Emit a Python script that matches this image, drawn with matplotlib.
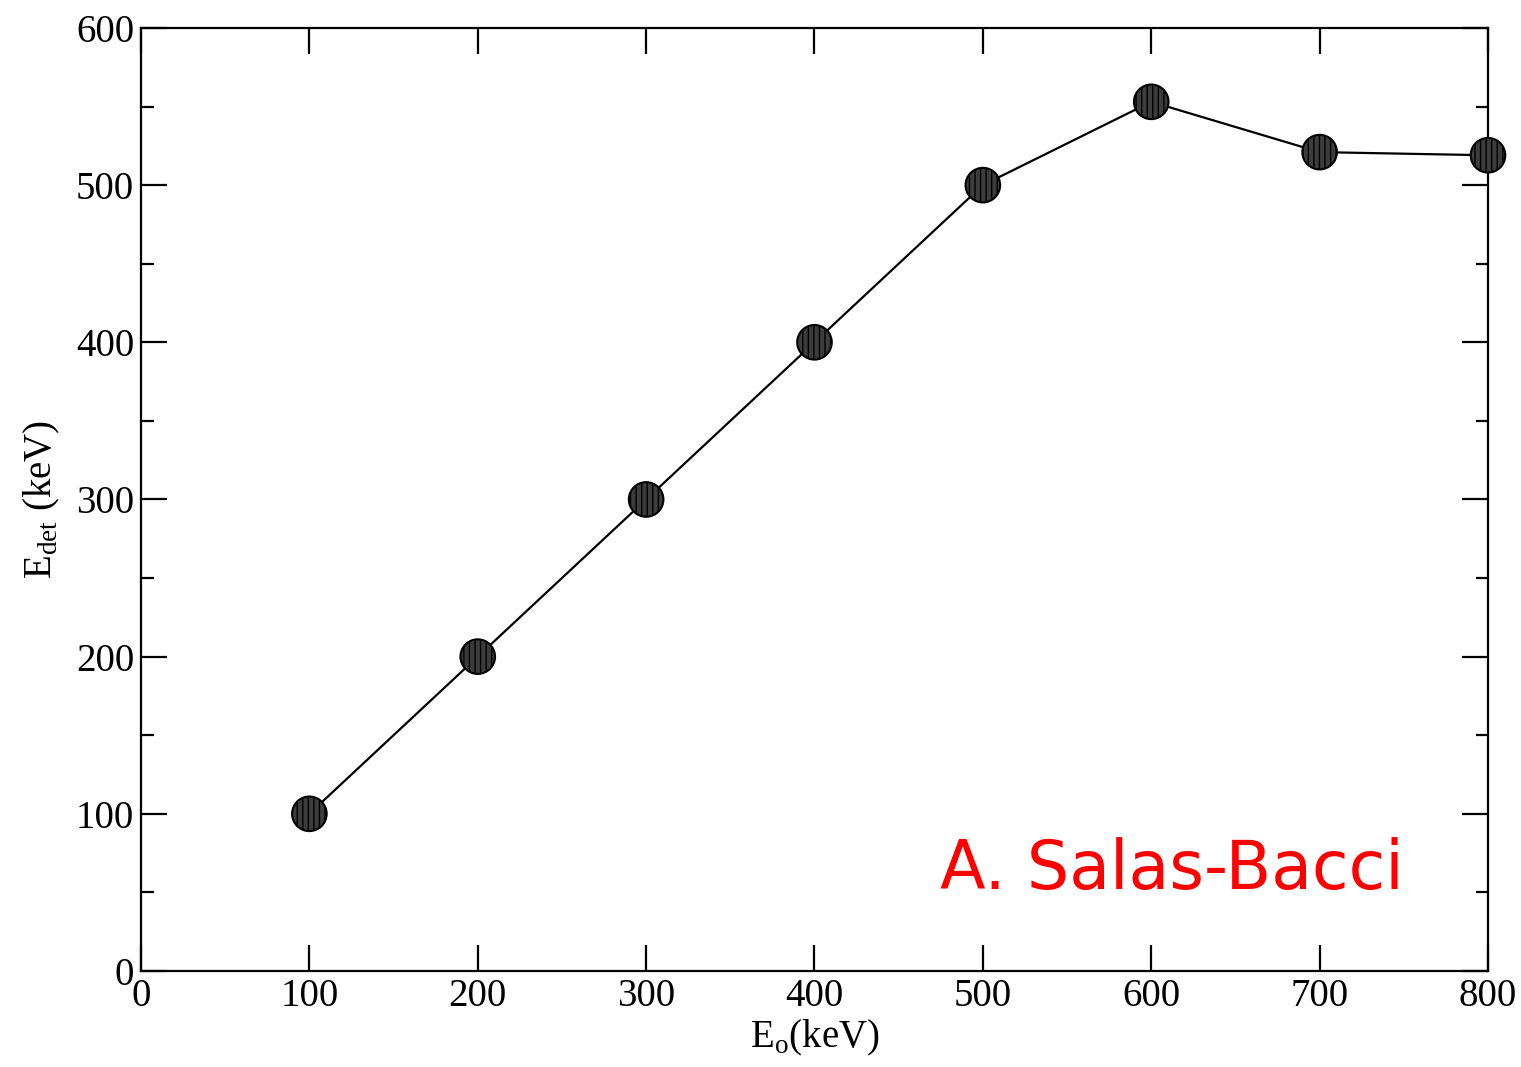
import numpy as np
import matplotlib.pyplot as plt
from matplotlib.ticker import MultipleLocator

e_incident = [100, 200, 300, 400, 500, 600, 700, 800]
e_detected = [100, 200, 300, 400, 500, 553, 521, 519]

plt.rcParams['font.family'] = ['Liberation Serif', 'DejaVu Serif']
plt.rcParams['hatch.color'] = '#a0a0a0'
plt.rcParams['hatch.linewidth'] = 1.0

fig = plt.figure(figsize=(15.21, 10.67), dpi=100)
ax = fig.add_axes([0.0927, 0.09, 0.8856, 0.8838])

ax.plot(e_incident, e_detected, color='black', lw=1.6, zorder=2)
ax.scatter(e_incident, e_detected, s=620, facecolor='#3c3c3c', edgecolor='black',
           linewidth=1.5, hatch='|||', zorder=3, clip_on=False)

ax.set_xlim(0, 800)
ax.set_ylim(0, 600)
ax.xaxis.set_major_locator(MultipleLocator(100))
ax.yaxis.set_major_locator(MultipleLocator(100))
ax.yaxis.set_minor_locator(MultipleLocator(50))

ax.tick_params(which='major', direction='in', length=19, width=1.6,
               top=True, right=True, labelsize=28, pad=5)
ax.tick_params(which='minor', direction='in', length=9, width=1.6,
               left=True, right=True)
for s in ax.spines.values():
    s.set_linewidth(1.6)

ax.set_xlabel(r'E$_{\mathregular{o}}$(keV)', fontsize=28, labelpad=2)
ax.set_ylabel(r'E$_{\mathregular{det}}$ (keV)', fontsize=28, labelpad=10)

ax.text(612, 64, 'A. Salas-Bacci', color='red', fontsize=48,
        family='DejaVu Sans', ha='center', va='center')

fig.savefig('out.png', dpi=100)
